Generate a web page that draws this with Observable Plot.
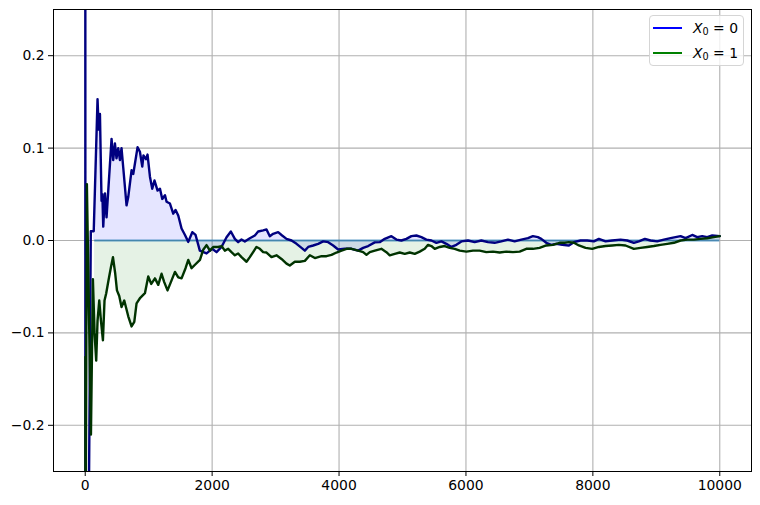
<!DOCTYPE html>
<html><head><meta charset="utf-8">
<script src="https://cdn.jsdelivr.net/npm/d3@7"></script>
<script src="https://cdn.jsdelivr.net/npm/@observablehq/plot@0.6"></script>
<style>
body{margin:0;background:#fff;}
#wrap{position:relative;width:760px;height:505px;font-family:"DejaVu Sans",sans-serif;}
#legend{position:absolute;left:649px;top:15px;width:95px;height:51px;border:1px solid #d5d5d5;border-radius:4px;background:rgba(255,255,255,0.8);box-sizing:border-box;font-size:13.9px;color:#000;z-index:2;}
.row{position:absolute;left:3px;height:20px;display:flex;align-items:center;white-space:nowrap;}
.sw{width:29px;height:2px;margin-right:11px;}
.sub{font-size:9.7px;position:relative;top:3px;}
</style></head>
<body><div id="wrap"></div>
<script>
// ---- data ----
const xBlue = [1,3,45,88,134,194,212,232,257,270,284,311,336,415,441,468,493,520,547,572,599,651,678,730,757,825,862,899,918,957,982,1020,1056,1091,1140,1178,1214,1257,1282,1335,1387,1424,1466,1518,1572,1624,1687,1739,1806,1912,2000,2069,2148,2227,2295,2358,2410,2463,2515,2594,2673,2725,2804,2857,2909,2961,3040,3103,3172,3251,3330,3409,3461,3514,3592,3671,3750,3829,3907,3986,4091,4196,4301,4380,4459,4563,4641,4720,4825,4904,4982,5061,5140,5219,5298,5376,5455,5534,5613,5692,5770,5849,5928,6032,6137,6242,6347,6452,6557,6662,6767,6872,6977,7055,7134,7187,7266,7344,7423,7518,7622,7701,7806,7911,8016,8095,8200,8305,8436,8541,8646,8725,8820,8909,9014,9119,9224,9303,9382,9461,9566,9645,9723,9802,9881,10000];
const yBlue = [0.7,-0.5,-0.4,0.01,0.01,0.153,0.12,0.137,0.043,0.05,0.015,0.051,0.025,0.110,0.087,0.105,0.089,0.100,0.087,0.100,0.079,0.038,0.047,0.076,0.072,0.101,0.096,0.080,0.092,0.088,0.093,0.069,0.056,0.065,0.054,0.056,0.045,0.049,0.042,0.040,0.029,0.033,0.027,0.013,0.006,-0.0015,0.009,0.006,-0.011,-0.014,-0.009,-0.0126,-0.007,0.0036,0.0097,0.0018,-0.0018,0.001,-0.001,0.0025,0.0054,0.0097,0.011,0.012,0.0047,0.0072,0.009,0.0054,0.0018,0,-0.0036,-0.008,-0.011,-0.007,-0.0054,-0.0036,-0.001,-0.0018,-0.0054,-0.0097,-0.009,-0.009,-0.011,-0.008,-0.006,-0.002,-0.0018,0.0018,0.0047,0.001,0,0.0018,0.0047,0.0054,0.0036,0.001,0,-0.0025,-0.001,-0.0036,-0.007,-0.0047,-0.001,0,-0.0018,0,-0.0018,-0.0025,-0.001,0.001,-0.001,0.001,0.0025,0.0047,0.0036,0.0018,-0.0025,-0.0047,-0.0036,-0.0047,-0.0054,-0.0018,0,0,-0.001,0.0018,-0.001,0,0.001,0,-0.0025,-0.001,0.0018,0,-0.001,0.001,0.0025,0.0036,0.0047,0.0025,0.006,0.0036,0.0047,0.0036,0.0054,0.0047];

const xGreen = [1,3,8,26,90,121,147,173,194,221,248,279,304,331,367,405,437,473,500,536,572,615,678,730,773,809,867,941,993,1041,1099,1151,1203,1245,1297,1356,1414,1466,1518,1581,1624,1676,1734,1808,1860,1912,1965,2017,2095,2148,2200,2253,2305,2358,2410,2463,2542,2594,2646,2699,2752,2804,2857,2935,3014,3093,3172,3224,3303,3382,3461,3540,3619,3724,3802,3881,3960,4039,4117,4196,4301,4380,4432,4485,4564,4667,4746,4799,4878,4956,5035,5114,5193,5271,5350,5403,5455,5508,5587,5665,5744,5823,5902,6007,6111,6216,6321,6426,6531,6636,6741,6846,6951,7055,7160,7266,7370,7475,7554,7622,7701,7780,7885,7990,8095,8200,8305,8410,8515,8646,8751,8856,8961,9067,9172,9277,9382,9487,9592,9697,9802,9907,10000];
const yGreen = [-0.6,-0.126,-0.3,0.061,-0.21,-0.042,-0.10,-0.13,-0.087,-0.065,-0.087,-0.108,-0.065,-0.057,-0.043,-0.029,-0.018,-0.036,-0.054,-0.06,-0.072,-0.065,-0.082,-0.093,-0.088,-0.068,-0.062,-0.057,-0.039,-0.047,-0.041,-0.048,-0.036,-0.045,-0.054,-0.044,-0.034,-0.040,-0.041,-0.030,-0.021,-0.030,-0.026,-0.021,-0.010,-0.005,-0.011,-0.007,-0.007,-0.006,-0.011,-0.009,-0.0126,-0.016,-0.014,-0.018,-0.023,-0.018,-0.0126,-0.007,-0.009,-0.0126,-0.013,-0.018,-0.016,-0.020,-0.025,-0.027,-0.023,-0.023,-0.022,-0.016,-0.019,-0.017,-0.017,-0.0155,-0.013,-0.011,-0.009,-0.009,-0.011,-0.0126,-0.0155,-0.0126,-0.011,-0.009,-0.0126,-0.016,-0.0144,-0.013,-0.0144,-0.013,-0.0144,-0.012,-0.009,-0.0047,-0.006,-0.009,-0.007,-0.006,-0.008,-0.009,-0.011,-0.012,-0.011,-0.011,-0.0126,-0.012,-0.013,-0.012,-0.0126,-0.012,-0.009,-0.009,-0.008,-0.0054,-0.0047,-0.0025,-0.0025,-0.0018,-0.0025,-0.0054,-0.008,-0.009,-0.007,-0.006,-0.0054,-0.0047,-0.0054,-0.009,-0.008,-0.007,-0.006,-0.0047,-0.0036,-0.0025,0,0.001,0.001,0.0018,0.0025,0.0036,0.0047];

const xTicks = [0, 2000, 4000, 6000, 8000, 10000];
const yTicks = [-0.2, -0.1, 0, 0.1, 0.2];
const seriesNames = ["0", "1"];
const fillStart = 130;
const zeroLineStart = 150;
const zeroLineEnd = 10000;

// ---- build ----
const blue = xBlue.map((x, i) => ({x, y: yBlue[i]}));
const green = xGreen.map((x, i) => ({x, y: yGreen[i]}));

const chart = Plot.plot({
  width: 760, height: 505,
  marginLeft: 53, marginRight: 9, marginTop: 9, marginBottom: 34,
  x: {domain: [-500, 10500]},
  y: {domain: [-0.25, 0.25]},
  style: {fontFamily: "DejaVu Sans", fontSize: "13.9px", background: "white", color: "black"},
  marks: [
    Plot.gridX(xTicks, {stroke: "#b0b0b0", strokeOpacity: 1, strokeWidth: 1.1}),
    Plot.gridY(yTicks, {stroke: "#b0b0b0", strokeOpacity: 1, strokeWidth: 1.1}),
    Plot.areaY(blue.filter(d => d.x >= fillStart), {x: "x", y1: 0, y2: "y", fill: "blue", fillOpacity: 0.1}),
    Plot.areaY(green.filter(d => d.x >= fillStart), {x: "x", y1: 0, y2: "y", fill: "green", fillOpacity: 0.1}),
    Plot.ruleY([0], {x1: zeroLineStart, x2: zeroLineEnd, stroke: "#1f77b4", strokeOpacity: 0.7, strokeWidth: 2.2}),
    Plot.line(blue, {x: "x", y: "y", stroke: "navy", strokeWidth: 2.4, clip: true}),
    Plot.line(green, {x: "x", y: "y", stroke: "#003300", strokeWidth: 2.4, clip: true}),
    Plot.frame({stroke: "black", strokeWidth: 1}),
    Plot.axisX(xTicks, {tickSize: 5, tickPadding: 4, tickFormat: d => String(d), label: null}),
    Plot.axisY(yTicks, {tickSize: 5, tickPadding: 4, tickFormat: d3.format(".1f"), label: null})
  ]
});
const wrap = document.getElementById("wrap");
wrap.appendChild(chart);

const legend = document.createElement("div");
legend.id = "legend";
const colors = ["blue", "green"];
seriesNames.forEach((v, i) => {
  const row = document.createElement("div");
  row.className = "row";
  row.style.top = (2 + i * 25) + "px";
  row.innerHTML = `<span class="sw" style="background:${colors[i]}"></span><i>X</i><span class="sub">0</span>&nbsp;= ${v}`;
  legend.appendChild(row);
});
wrap.appendChild(legend);
</script>
</body></html>
